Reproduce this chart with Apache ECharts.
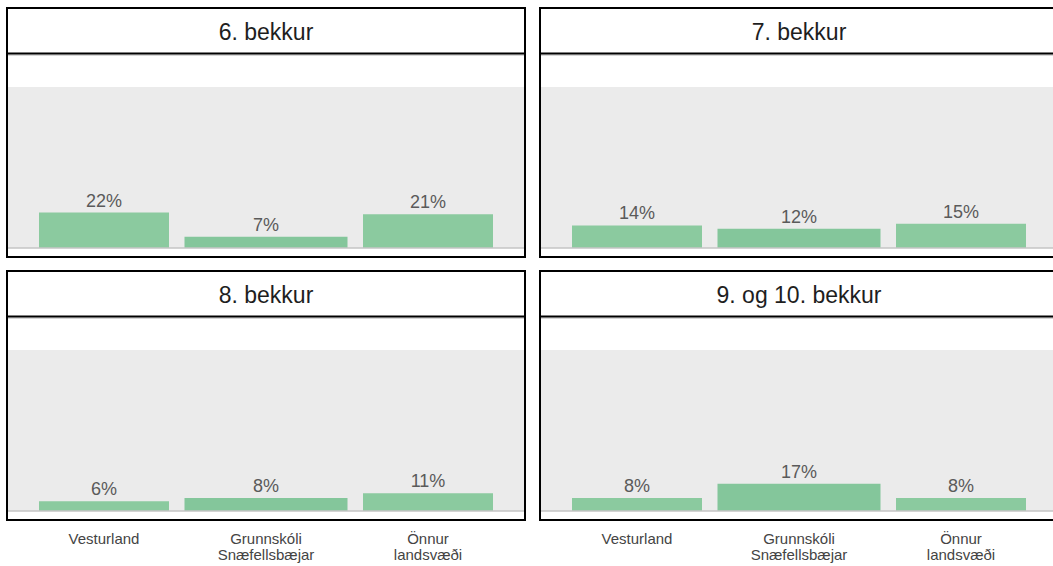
<!DOCTYPE html>
<html>
<head>
<meta charset="utf-8">
<script src="https://cdn.jsdelivr.net/npm/echarts@6/dist/echarts.min.js"></script>
<style>
  html, body { margin: 0; padding: 0; background: #fff; }
  #chart { width: 1053px; height: 566px; }
</style>
</head>
<body>
<div id="chart"></div>
<script>
// gögn
const categories = ['Vesturland', 'Grunnskóli\nSnæfellsbæjar', 'Önnur\nlandsvæði'];
const panelTitles = ['6. bekkur', '7. bekkur', '8. bekkur', '9. og 10. bekkur'];
const bekkur6 = [22, 7, 21];
const bekkur7 = [14, 12, 15];
const bekkur8 = [6, 8, 11];
const bekkur9og10 = [8, 17, 8];
const panelValues = [bekkur6, bekkur7, bekkur8, bekkur9og10];

// útlit
const barWidths = [130, 163, 130];
const barColors = ['#8bca9f', '#84c69b', '#8bca9f'];
const FONT = '"Liberation Sans", Arial, sans-serif';
const panelLeft = [7, 540];
const panelTop = [8, 271];
const PW = 518, PH = 249;

const chart = echarts.init(document.getElementById('chart'), null, { renderer: 'svg' });

const grids = [], xAxes = [], yAxes = [], series = [], graphics = [];

panelValues.forEach((vals, i) => {
    const row = Math.floor(i / 2), col = i % 2;
    const L = panelLeft[col], T = panelTop[row];
    const isBottom = row === 1;

    // grár bakgrunnur
    graphics.push({ type: 'rect', z: -10, shape: { x: L, y: T + 79, width: PW, height: 161 },
        style: { fill: '#ebebeb' } });
    // grunnlína
    graphics.push({ type: 'line', z: 5, shape: { x1: L, y1: T + 240, x2: L + PW, y2: T + 240 },
        style: { stroke: '#c4c4c4', lineWidth: 1.5 } });
    // rammi
    graphics.push({ type: 'rect', z: 10, shape: { x: L, y: T, width: PW, height: PH },
        style: { fill: null, stroke: '#000', lineWidth: 2 } });
    graphics.push({ type: 'line', z: 10, shape: { x1: L, y1: T + 45.5, x2: L + PW, y2: T + 45.5 },
        style: { stroke: '#000', lineWidth: 2 } });
    graphics.push({ type: 'line', z: 9, shape: { x1: L, y1: T + 47.2, x2: L + PW, y2: T + 47.2 },
        style: { stroke: '#c8c8c8', lineWidth: 1.2 } });
    // titill
    graphics.push({ type: 'text', z: 10, x: L + PW / 2, y: T + 24,
        style: { text: panelTitles[i], font: '23px ' + FONT, fill: '#1e1e1e',
                 textAlign: 'center', textVerticalAlign: 'middle' } });

    grids.push({ left: L + 16, top: T + 79, width: 486, height: 161 });
    xAxes.push({
        type: 'category', gridIndex: i, data: categories,
        axisLine: { show: false }, axisTick: { show: false },
        axisLabel: { show: isBottom, interval: 0, color: '#444', fontSize: 15,
                     fontFamily: FONT, lineHeight: 16.5, margin: 19 }
    });
    yAxes.push({ type: 'value', gridIndex: i, min: 0, max: 100, show: false,
                 splitLine: { show: false } });
    series.push({
        type: 'custom', xAxisIndex: i, yAxisIndex: i,
        data: vals.map((v, k) => [k, v]),
        renderItem: (params, api) => {
            const k = api.value(0), v = api.value(1);
            const top = api.coord([k, v]);
            const base = api.coord([k, 0]);
            const w = barWidths[k];
            return {
                type: 'rect',
                shape: { x: top[0] - w / 2, y: top[1], width: w, height: base[1] - top[1] },
                style: { fill: barColors[k] },
                textContent: { style: { text: v + '%', fill: '#5a5a5a', font: '18px ' + FONT } },
                textConfig: { position: 'top', distance: 3 }
            };
        }
    });
});

chart.setOption({
    animation: false,
    backgroundColor: '#fff',
    grid: grids,
    xAxis: xAxes,
    yAxis: yAxes,
    series: series,
    graphic: graphics
});
</script>
</body>
</html>
